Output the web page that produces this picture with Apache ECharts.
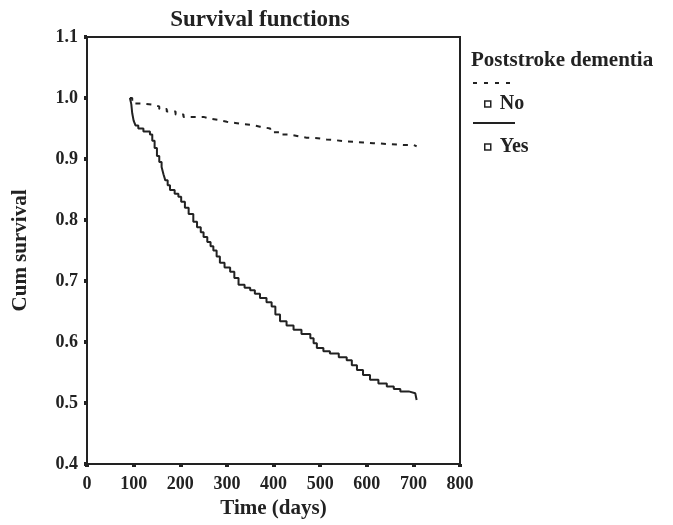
<!DOCTYPE html>
<html><head><meta charset="utf-8">
<script src="https://cdn.jsdelivr.net/npm/echarts@6/dist/echarts.min.js"></script>
<style>html,body{margin:0;padding:0;background:#fff}#c{width:673px;height:525px}</style>
</head><body><div id="c"></div>
<script>
var xTicks = [0,100,200,300,400,500,600,700,800];
var yTicks = [0.4,0.5,0.6,0.7,0.8,0.9,1.0,1.1];
var seriesNames = ['No','Yes'];
var noTime = [92,97,103,120,142,155,171,190,207,235,250,264,282,300,318,335,352,371,393,415,436,455,471,495,514,532,550,575,593,614,679,700,707];
var noSurv = [1.0,0.995,0.991,0.989,0.986,0.982,0.978,0.973,0.969,0.969,0.966,0.964,0.961,0.959,0.957,0.956,0.953,0.950,0.944,0.940,0.937,0.935,0.934,0.932,0.931,0.929,0.928,0.927,0.926,0.923,0.923,0.921,0.920];
var yesTime = [92,95,97,100,104,110,121,135,140,145,150,155,160,164,168,173,178,188,196,202,210,218,228,236,244,250,258,265,271,278,285,295,307,316,325,338,350,360,371,385,396,404,414,428,443,460,479,486,493,507,521,540,557,568,579,592,607,625,643,658,672,690,704,707];
var yesSurv = [1.0,0.99,0.975,0.963,0.955,0.950,0.945,0.940,0.930,0.918,0.905,0.895,0.887,0.875,0.865,0.857,0.849,0.843,0.838,0.830,0.820,0.810,0.797,0.788,0.780,0.772,0.764,0.757,0.750,0.740,0.730,0.722,0.715,0.705,0.694,0.689,0.685,0.679,0.672,0.665,0.658,0.645,0.634,0.627,0.620,0.613,0.606,0.598,0.590,0.585,0.581,0.575,0.570,0.562,0.554,0.546,0.538,0.532,0.527,0.523,0.519,0.516,0.513,0.505];

function zip(a,b){return a.map(function(v,i){return [v,b[i]];});}
var F = '"Liberation Serif", "Times New Roman", serif';
var chart = echarts.init(document.getElementById('c'));
chart.setOption({
  animation:false,
  backgroundColor:'#fff',
  title:{text:'Survival functions',left:255,top:4,textAlign:'center',
    textStyle:{fontFamily:F,fontWeight:'bold',fontSize:23,color:'#222'}},
  grid:{left:87,right:213,top:37,bottom:61,show:true,borderColor:'#222',borderWidth:2,backgroundColor:'transparent'},
  xAxis:{type:'value',min:0,max:800,interval:100,
    name:'Time (days)',nameLocation:'middle',nameGap:34,
    nameTextStyle:{fontFamily:F,fontWeight:'bold',fontSize:21,color:'#222'},
    axisLine:{show:true,lineStyle:{color:'#222',width:2}},
    axisTick:{show:true,length:3,lineStyle:{color:'#222',width:4}},
    axisLabel:{fontFamily:F,fontWeight:'bold',fontSize:18,color:'#222',margin:11,
      formatter:function(v){return xTicks.indexOf(v)>=0?String(v):'';}},
    splitLine:{show:false}},
  yAxis:{type:'value',min:0.4,max:1.1,interval:0.1,
    name:'Cum survival',nameLocation:'middle',nameGap:56,
    nameTextStyle:{fontFamily:F,fontWeight:'bold',fontSize:21,color:'#222'},
    axisLine:{show:true,lineStyle:{color:'#222',width:2}},
    axisTick:{show:true,length:3,lineStyle:{color:'#222',width:4}},
    axisLabel:{fontFamily:F,fontWeight:'bold',fontSize:18,color:'#222',margin:9,
      formatter:function(v){var r=Math.round(v*10)/10;return yTicks.indexOf(r)>=0?r.toFixed(1):'';}},
    splitLine:{show:false}},
  legend:{orient:'vertical',left:479,top:89,itemGap:23,itemWidth:6,itemHeight:6,
    textStyle:{fontFamily:F,fontWeight:'bold',fontSize:20,color:'#222',padding:[0,0,0,4]},
    data:[
      {name:seriesNames[0],icon:'rect',itemStyle:{color:'#fff',borderColor:'#222',borderWidth:1.5}},
      {name:seriesNames[1],icon:'rect',itemStyle:{color:'#fff',borderColor:'#222',borderWidth:1.5}}
    ]},
  graphic:[
    {type:'text',left:471,top:50,style:{text:'Poststroke dementia',fontFamily:F,fontWeight:'bold',fontSize:21,fill:'#222'}},
    {type:'line',shape:{x1:473,y1:83,x2:517,y2:83},style:{stroke:'#222',lineWidth:2,lineDash:[4,7]}},
    {type:'line',shape:{x1:473,y1:123,x2:515,y2:123},style:{stroke:'#222',lineWidth:2}}
  ],
  series:[
    {name:seriesNames[0],type:'line',step:'end',showSymbol:false,data:zip(noTime,noSurv),
      lineStyle:{color:'#222',width:2,type:[5,6]},itemStyle:{color:'#222'}},
    {name:seriesNames[1],type:'line',step:'end',showSymbol:false,data:zip(yesTime,yesSurv),
      lineStyle:{color:'#222',width:2},itemStyle:{color:'#222'}}
  ]
});
</script></body></html>
